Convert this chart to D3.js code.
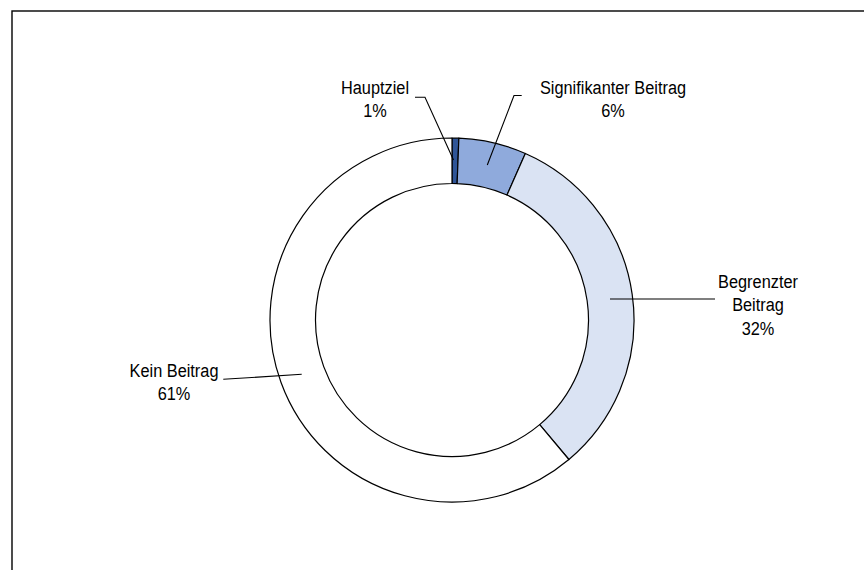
<!DOCTYPE html>
<html>
<head>
<meta charset="utf-8">
<script src="https://cdn.jsdelivr.net/npm/d3@7"></script>
<style>
html,body{margin:0;padding:0;background:#fff;}
svg{display:block;}
</style>
</head>
<body>
<svg id="chart" width="864" height="570"></svg>
<script>
// Data
const categories = ["Hauptziel", "Signifikanter Beitrag", "Begrenzter Beitrag", "Kein Beitrag"];
const values = [0.6, 6.0, 32.3, 61.1];
const percentLabels = ["1%", "6%", "32%", "61%"];
const colors = ["#2F5597", "#8FAADC", "#DAE3F3", "#FFFFFF"];
// label text lines per category
const labelLines = [["Hauptziel", "1%"], ["Signifikanter Beitrag", "6%"], ["Begrenzter", "Beitrag", "32%"], ["Kein Beitrag", "61%"]];

const svg = d3.select("#chart");
const cx = 452, cy = 320, rOuter = 182, rInner = 136.5;

// frame
svg.append("rect").attr("x", 12).attr("y", 11).attr("width", 870).attr("height", 580)
  .attr("fill", "none").attr("stroke", "#000").attr("stroke-width", 1.4);

const pie = d3.pie().sort(null).value(d => d).startAngle(0).endAngle(2 * Math.PI);
const arcs = pie(values);
const arc = d3.arc().innerRadius(rInner).outerRadius(rOuter);

const g = svg.append("g").attr("transform", `translate(${cx},${cy})`);
g.selectAll("path.slice").data(arcs).join("path")
  .attr("class", "slice")
  .attr("d", arc)
  .attr("fill", (d, i) => colors[i])
  .attr("stroke", "#000")
  .attr("stroke-width", 1.2)
  .attr("stroke-linejoin", "round");

// leader lines (label anchor -> point in the ring)
const leaders = [
  [[415, 97.3], [425, 97.3], [453.5, 160]],
  [[521.7, 95.5], [514, 95.5], [487.3, 165]],
  [[610, 299], [715, 299]],
  [[223.3, 379.3], [301.7, 374.3]]
];

const line = d3.line();
svg.selectAll("path.leader").data(leaders).join("path")
  .attr("class", "leader")
  .attr("d", d => line(d))
  .attr("fill", "none")
  .attr("stroke", "#000")
  .attr("stroke-width", 1.1);

// labels
const labelPos = [
  {x: 375, y: 94},
  {x: 613, y: 94},
  {x: 758, y: 288},
  {x: 174, y: 377}
];
const lh = 23.5;
labelLines.forEach((lines, i) => {
  const t = svg.append("text")
    .attr("transform", `translate(${labelPos[i].x},${labelPos[i].y}) scale(0.86,1)`)
    .attr("text-anchor", "middle")
    .attr("font-family", "'Liberation Sans', Arial, sans-serif")
    .attr("font-size", 19)
    .attr("fill", "#000");
  lines.forEach((s, j) => {
    t.append("tspan").attr("x", 0).attr("y", j * lh).text(s);
  });
});
</script>
</body>
</html>
